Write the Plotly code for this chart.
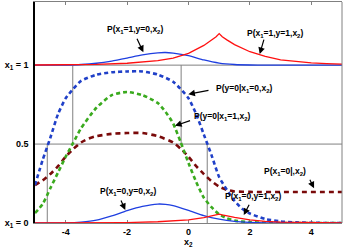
import plotly.graph_objects as go

# ---------------- data ----------------
# joint densities (drawn stacked on the x1 = 0 and x1 = 1 baselines)
x_j_blue = [-5, -4, -3.5, -3, -2.5, -2, -1.5, -1, -0.75, -0.5, 0, 0.5, 1, 1.5, 2, 2.5, 3, 5]
p_x1_1_y0 = [0, 0.001, 0.004, 0.012, 0.026, 0.045, 0.065, 0.078, 0.080, 0.076, 0.060, 0.033, 0.013, 0.004, 0.001, 0, 0, 0]
p_x1_0_y0 = [0, 0.001, 0.006, 0.018, 0.045, 0.078, 0.105, 0.12, 0.118, 0.11, 0.08, 0.047, 0.024, 0.010, 0.004, 0.001, 0, 0]

x_j_red = [-5, -4, -3, -2, -1, -0.5, 0, 0.5, 0.75, 0.9, 1.0, 1.1, 1.25, 1.5, 2, 2.5, 3, 3.5, 4, 4.5, 5]
p_x1_1_y1 = [0.001, 0.002, 0.005, 0.012, 0.028, 0.045, 0.075, 0.125, 0.16, 0.18, 0.20, 0.18, 0.16, 0.13, 0.085, 0.055, 0.034, 0.022, 0.014, 0.009, 0.006]
p_x1_0_y1 = [0, 0.001, 0.001, 0.003, 0.008, 0.013, 0.02, 0.034, 0.044, 0.05, 0.056, 0.051, 0.045, 0.035, 0.02, 0.01, 0.006, 0.004, 0.002, 0.0015, 0.001]

# conditional probabilities
x_c_blue = [-5, -4.75, -4.5, -4.25, -4, -3.75, -3.5, -3, -2.5, -2, -1.5, -1, -0.5, 0, 0.25, 0.5, 0.75, 1, 1.25, 1.5, 1.75, 2, 2.5, 3, 3.5, 4, 5]
p_y0_x1_0 = [0.24, 0.40, 0.54, 0.69, 0.79, 0.85, 0.90, 0.94, 0.955, 0.96, 0.96, 0.94, 0.895, 0.79, 0.69, 0.56, 0.43, 0.29, 0.21, 0.14, 0.09, 0.06, 0.025, 0.01, 0.004, 0.001, 0]

x_c_green = [-5, -4.75, -4.5, -4.25, -4, -3.75, -3.5, -3, -2.5, -2, -1.5, -1, -0.75, -0.5, -0.25, 0, 0.25, 0.5, 0.75, 1, 1.25, 1.5, 2, 2.5, 3, 5]
p_y0_x1_1 = [0.063, 0.12, 0.22, 0.32, 0.42, 0.51, 0.60, 0.73, 0.81, 0.83, 0.81, 0.76, 0.705, 0.63, 0.51, 0.38, 0.26, 0.16, 0.10, 0.055, 0.03, 0.015, 0.005, 0.002, 0, 0]

x_c_dred = [-5, -4.75, -4.5, -4.25, -4, -3.75, -3.5, -3.25, -3, -2.5, -2, -1.5, -1, -0.5, -0.25, 0, 0.25, 0.5, 0.75, 1, 1.25, 1.5, 2, 3, 5]
p_x1_0 = [0.24, 0.27, 0.31, 0.36, 0.42, 0.47, 0.51, 0.535, 0.55, 0.565, 0.57, 0.57, 0.55, 0.51, 0.47, 0.42, 0.36, 0.31, 0.265, 0.23, 0.21, 0.20, 0.197, 0.196, 0.196]

# decision thresholds (where the conditionals cross 0.5)
thr_x1_0 = [-4.6, 0.61]
thr_x1_1 = [-3.77, -0.24]

# axis ticks
x_ticks = [-4, -2, 0, 2, 4]
x_ticktext = ["-4", "-2", "0", "2", "4"]
y_ticks = [0, 0.5, 1]
y_ticktext = ["x<sub>1</sub> = 0", "0.5", "x<sub>1</sub> = 1"]

# ---------------- figure ----------------
BLUE = "#1f3fe0"
BLUE_D = "#2040c8"
RED = "#ff1010"
GREEN = "#3aaa1e"
DRED = "#7a0a0a"
GRAY = "#808080"
FONT = dict(family="Liberation Sans, Arial, sans-serif", size=9, color="black", weight="bold")
AFONT = dict(family="Liberation Sans, Arial, sans-serif", size=8.5, color="black", weight="bold")

fig = go.Figure()

# conditional curves (dashed)
fig.add_trace(go.Scatter(x=x_c_dred, y=p_x1_0, mode="lines",
                         line=dict(color=DRED, width=2.6, dash="5px,4px", shape="spline", smoothing=0.6)))
fig.add_trace(go.Scatter(x=x_c_green, y=p_y0_x1_1, mode="lines",
                         line=dict(color=GREEN, width=2.6, dash="4px,3px", shape="spline", smoothing=0.6)))
fig.add_trace(go.Scatter(x=x_c_blue, y=p_y0_x1_0, mode="lines",
                         line=dict(color=BLUE_D, width=2.6, dash="4px,3px", shape="spline", smoothing=0.6)))

# joint densities (solid), on baselines 0 and 1
fig.add_trace(go.Scatter(x=x_j_blue, y=[v + 1 for v in p_x1_1_y0], mode="lines",
                         line=dict(color=BLUE, width=1.3, shape="spline", smoothing=0.6)))
fig.add_trace(go.Scatter(x=x_j_blue, y=p_x1_0_y0, mode="lines",
                         line=dict(color=BLUE, width=1.3, shape="spline", smoothing=0.6)))
fig.add_trace(go.Scatter(x=x_j_red, y=[v + 1 for v in p_x1_1_y1], mode="lines",
                         line=dict(color=RED, width=1.3)))
fig.add_trace(go.Scatter(x=x_j_red, y=p_x1_0_y1, mode="lines",
                         line=dict(color=RED, width=1.3)))

shapes = []
for yv in (0.5, 1):
    shapes.append(dict(type="line", xref="x", yref="y", x0=-5, x1=5, y0=yv, y1=yv,
                       line=dict(color=GRAY, width=1), layer="below"))
for xv in thr_x1_0:
    shapes.append(dict(type="line", xref="x", yref="y", x0=xv, x1=xv, y0=0, y1=0.5,
                       line=dict(color=GRAY, width=1), layer="below"))
for xv in thr_x1_1:
    shapes.append(dict(type="line", xref="x", yref="y", x0=xv, x1=xv, y0=0.5, y1=1,
                       line=dict(color=GRAY, width=1), layer="below"))
shapes.append(dict(type="line", xref="paper", yref="paper", x0=1, x1=1, y0=0, y1=1,
                   line=dict(color=GRAY, width=1)))

labels = [
    # text, text x, text y, arrow tail x, tail y, head x, head y
    ("P(x<sub>1</sub>=1,y=0,x<sub>2</sub>)", -1.75, 1.228, -1.70, 1.177, -1.47, 1.082),
    ("P(x<sub>1</sub>=1,y=1,x<sub>2</sub>)", 2.82, 1.20, 2.47, 1.171, 2.32, 1.07),
    ("P(y=0|x<sub>1</sub>=0,x<sub>2</sub>)", 1.80, 0.852, 0.70, 0.842, -0.006, 0.816),
    ("P(y=0|x<sub>1</sub>=1,x<sub>2</sub>)", 1.09, 0.673, 0.10, 0.652, -0.44, 0.616),
    ("P(x<sub>1</sub>=0|,x<sub>2</sub>)", 3.15, 0.325, 3.93, 0.283, 4.09, 0.22),
    ("P(x<sub>1</sub>=0,y=1,x<sub>2</sub>)", 2.10, 0.167, 2.0, 0.125, 1.80, 0.05),
    ("P(x<sub>1</sub>=0,y=0,x<sub>2</sub>)", -1.97, 0.198, -2.22, 0.152, -2.06, 0.082),
]
annotations = []
for t, tx, ty, ax, ay, hx, hy in labels:
    annotations.append(dict(x=tx, y=ty, xref="x", yref="y", text=t, showarrow=False,
                            font=AFONT, xanchor="center", yanchor="middle"))
    annotations.append(dict(x=hx, y=hy, ax=ax, ay=ay, xref="x", yref="y", axref="x", ayref="y",
                            text="", showarrow=True, arrowhead=2, arrowsize=1.1,
                            arrowwidth=1.2, arrowcolor="black"))
# x-axis title
annotations.append(dict(x=0, y=-0.088, xref="x", yref="paper", text="x<sub>2</sub>",
                        showarrow=False, font=FONT, xanchor="center", yanchor="middle"))

fig.update_layout(
    width=346, height=249,
    margin=dict(l=35, r=4, t=2, b=26, autoexpand=False),
    paper_bgcolor="white", plot_bgcolor="white",
    showlegend=False,
    shapes=shapes, annotations=annotations,
    font=FONT,
)
fig.update_xaxes(range=[-5, 5], tickvals=x_ticks, ticktext=x_ticktext,
                 ticks="inside", ticklen=3, tickcolor=GRAY, showline=True, linecolor=GRAY,
                 mirror="ticks", showgrid=False, zeroline=False, layer="below traces",
                 tickfont=FONT, automargin=False, ticklabelstandoff=0)
fig.update_yaxes(range=[0, 1.4], tickvals=y_ticks, ticktext=y_ticktext,
                 ticks="", showline=True, linecolor="black", linewidth=1.5,
                 showgrid=False, zeroline=False, tickfont=FONT, ticklabelstandoff=3,
                 automargin=False)

fig.write_html("out.html", config={"displayModeBar": False},
               post_script="document.body.style.margin='0';document.body.style.padding='0';")
